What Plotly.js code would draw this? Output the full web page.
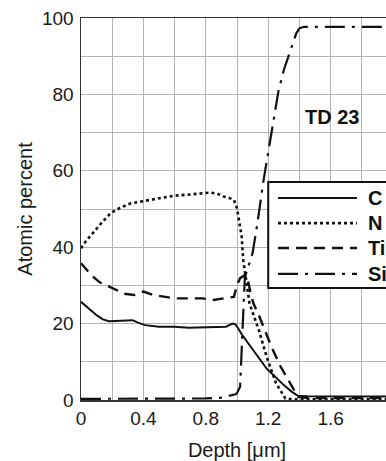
<!DOCTYPE html>
<html>
<head>
<meta charset="utf-8">
<script src="https://cdn.plot.ly/plotly-3.0.1.min.js"></script>
<style>
html,body{margin:0;padding:0;overflow:hidden;background:#fff;}
#chart{width:403px;height:461px;}
</style>
</head>
<body>
<div id="chart"></div>
<script>
// Depth [µm] and atomic percent per element
const cDepth = [0, 0.03, 0.06, 0.1, 0.14, 0.18, 0.22, 0.28, 0.33, 0.37, 0.41, 0.5, 0.6, 0.69, 0.76, 0.85, 0.93, 0.97, 0.99, 1.01, 1.03, 1.08, 1.13, 1.19, 1.24, 1.3, 1.35, 1.39, 1.45, 1.6, 1.8, 2.0];
const cValue = [25.7, 24.6, 23.6, 22.2, 21.1, 20.6, 20.7, 20.9, 20.9, 20.2, 19.6, 19.2, 19.2, 18.9, 19.0, 19.2, 19.2, 20.0, 19.8, 18.6, 17.2, 14.4, 11.6, 8.2, 6.3, 3.9, 2.2, 1.1, 1.0, 1.0, 0.9, 0.9];

const nDepth = [0, 0.03, 0.066, 0.1, 0.13, 0.19, 0.25, 0.32, 0.45, 0.6, 0.7, 0.79, 0.83, 0.88, 0.92, 0.95, 0.98, 1.0, 1.01, 1.03, 1.04, 1.06, 1.08, 1.11, 1.14, 1.19, 1.25, 1.31, 1.35, 1.5, 2.0];
const nValue = [39.7, 41.5, 43.2, 45.0, 46.3, 48.9, 50.3, 51.5, 52.5, 53.5, 53.8, 54.1, 54.3, 53.9, 53.2, 52.9, 52.4, 50.2, 48.0, 42.8, 36.6, 31.4, 25.3, 21.8, 18.3, 11.3, 4.4, 0.4, 0.2, 0.2, 0.2];

const tiDepth = [0, 0.03, 0.07, 0.12, 0.2, 0.28, 0.34, 0.4, 0.46, 0.55, 0.6, 0.7, 0.78, 0.85, 0.93, 0.98, 1.0, 1.02, 1.05, 1.07, 1.085, 1.105, 1.14, 1.17, 1.22, 1.28, 1.34, 1.39, 1.45, 2.0];
const tiValue = [35.8, 34.5, 32.5, 30.8, 29.2, 27.8, 27.5, 28.4, 27.5, 26.8, 26.6, 26.6, 26.6, 26.2, 26.6, 27.0, 30.0, 31.9, 32.7, 31.4, 28.4, 25.3, 22.2, 19.2, 14.0, 8.7, 4.4, 0.9, 0.5, 0.5];

const siDepth = [0, 0.2, 0.4, 0.6, 0.8, 0.9, 0.95, 0.99, 1.0, 1.02, 1.035, 1.05, 1.1, 1.13, 1.17, 1.22, 1.265, 1.3, 1.34, 1.38, 1.4, 1.43, 1.6, 2.0];
const siValue = [0.3, 0.3, 0.3, 0.3, 0.4, 0.6, 1.0, 1.5, 1.8, 3.5, 18.0, 32.0, 38.5, 46.0, 57.5, 69.4, 80.7, 86.4, 91.2, 96.0, 97.3, 97.7, 97.7, 97.7];

const seriesNames = ['C', 'N', 'Ti', 'Si'];
const xTickVals = [0, 0.4, 0.8, 1.2, 1.6];
const xTickText = ['0', '0.4', '0.8', '1.2', '1.6'];
const yTickVals = [0, 20, 40, 60, 80, 100];
const sampleLabel = 'TD 23';

const FONT = 'Liberation Sans, Arial, Helvetica, sans-serif';
const INK = '#111';

const styles = [
  {color: INK, width: 2, dash: 'solid'},
  {color: INK, width: 2.6, dash: '3px,3px'},
  {color: INK, width: 2.4, dash: '11px,7px'},
  {color: INK, width: 2.2, dash: '20px,7px,3px,7px'}
];
const xs = [cDepth, nDepth, tiDepth, siDepth];
const ys = [cValue, nValue, tiValue, siValue];

const traces = seriesNames.map((nm, i) => ({
  type: 'scatter', mode: 'lines', hoverinfo: 'skip', showlegend: false,
  x: xs[i], y: ys[i], name: nm, line: styles[i]
}));

// Legend drawn as a boxed key inside the plot (data coordinates)
const legBox = {x0: 1.2, x1: 2.05, y0: 29.3, y1: 57.1};
const legRowsY = [52.9, 46.3, 39.8, 33.0];
const legLineX = [1.263, 1.769];
const legTextX = 1.83;

const shapes = [{
  type: 'rect', xref: 'x', yref: 'y', layer: 'above',
  x0: legBox.x0, x1: legBox.x1, y0: legBox.y0, y1: legBox.y1,
  fillcolor: '#fff', line: {color: INK, width: 2}
}].concat(seriesNames.map((nm, i) => ({
  type: 'line', xref: 'x', yref: 'y', layer: 'above',
  x0: legLineX[0], x1: legLineX[1], y0: legRowsY[i], y1: legRowsY[i],
  line: styles[i]
})));

const annotations = [{
  x: 1.612, y: 74.2, xref: 'x', yref: 'y', text: sampleLabel, showarrow: false,
  font: {family: FONT, size: 20, color: INK, weight: 'bold'}
}].concat(seriesNames.map((nm, i) => ({
  x: legTextX, y: legRowsY[i], xref: 'x', yref: 'y', xanchor: 'left', yanchor: 'middle',
  text: nm, showarrow: false,
  font: {family: FONT, size: 20, color: INK, weight: 'bold'}
})));

const layout = {
  width: 403, height: 461,
  margin: {l: 81, r: 10, t: 18, b: 61, pad: 0},
  paper_bgcolor: '#fff', plot_bgcolor: '#fff',
  font: {family: FONT, size: 19, color: '#1a1a1a'},
  showlegend: false,
  xaxis: {
    range: [0, 2.0], tickvals: xTickVals, ticktext: xTickText,
    showgrid: true, gridcolor: '#b4b4b4', gridwidth: 1,
    minor: {dtick: 0.2, showgrid: true, gridcolor: '#b4b4b4', gridwidth: 1, ticks: ''},
    showline: true, linecolor: '#333', linewidth: 1.5, mirror: true,
    ticks: '', ticklabelstandoff: 1, zeroline: false,
    tickfont: {family: FONT, size: 19, color: '#1a1a1a'},
    title: {text: 'Depth [μm]', font: {family: FONT, size: 20, color: '#1a1a1a'}, standoff: 14}
  },
  yaxis: {
    range: [0, 100], tickvals: yTickVals,
    showgrid: true, gridcolor: '#b4b4b4', gridwidth: 1,
    minor: {dtick: 10, showgrid: true, gridcolor: '#b4b4b4', gridwidth: 1, ticks: ''},
    showline: true, linecolor: '#333', linewidth: 1.5, mirror: true,
    ticks: '', ticklabelstandoff: 2, zeroline: false,
    tickfont: {family: FONT, size: 19, color: '#1a1a1a'},
    title: {text: 'Atomic percent', font: {family: FONT, size: 20, color: '#1a1a1a'}, standoff: 4}
  },
  shapes: shapes,
  annotations: annotations
};

Plotly.newPlot('chart', traces, layout, {staticPlot: true, displayModeBar: false});
</script>
</body>
</html>
